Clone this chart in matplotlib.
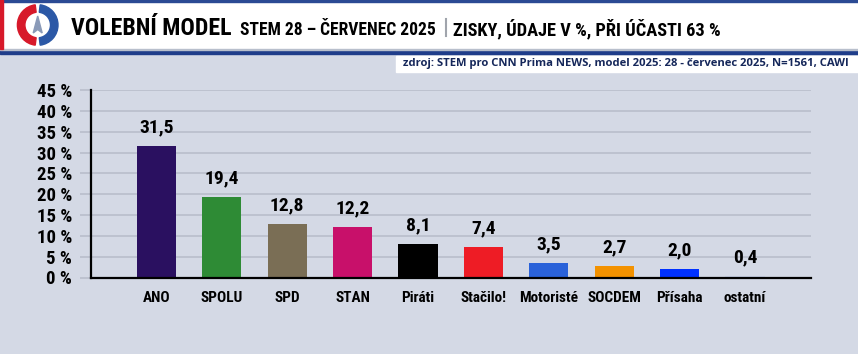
import matplotlib
matplotlib.use("Agg")
import matplotlib.pyplot as plt
from matplotlib.patches import Rectangle, Wedge, Polygon
from matplotlib import font_manager as fm

categories = ["ANO", "SPOLU", "SPD", "STAN", "Piráti", "Stačilo!", "Motoristé", "SOCDEM", "Přísaha", "ostatní"]
values = [31.5, 19.4, 12.8, 12.2, 8.1, 7.4, 3.5, 2.7, 2.0, 0.4]
colors = ["#2a1060", "#2e8b35", "#7a6e55", "#c8106a", "#000000", "#ee1c25", "#2a62d9", "#f39200", "#0031ff", "#c9d1e6"]
yticks = [0, 5, 10, 15, 20, 25, 30, 35, 40, 45]
ytick_labels = [f"{t} %" for t in yticks]
value_labels = [f"{v:.1f}".replace(".", ",") for v in values]

names = {f.name for f in fm.fontManager.ttflist}
COND = [n for n in ["Liberation Sans Narrow", "Roboto Condensed", "DejaVu Sans Condensed", "DejaVu Sans"] if n in names]
WIDE = [n for n in ["Open Sans", "Noto Sans", "DejaVu Sans"] if n in names]
cond_kw = dict(family=COND, fontweight="bold")

W, H = 858, 354
fig = plt.figure(figsize=(W / 100, H / 100), dpi=100)
fig.patch.set_facecolor("#d4d9e5")
renderer = fig.canvas.get_renderer()


def fit_width(t, target):
    bb = t.get_window_extent(renderer)
    t.set_fontsize(t.get_fontsize() * target / bb.width)


# header
hdr = fig.add_axes([0, 0, 1, 1], zorder=0)
hdr.set_xlim(0, W)
hdr.set_ylim(H, 0)
hdr.axis("off")
hdr.add_patch(Rectangle((0, 0), W, 49, color="white"))
hdr.add_patch(Rectangle((0, 0), W, 1.5, color="#2b4a94"))
hdr.add_patch(Rectangle((0, 49.5), W, 4.5, color="#1f3d8a"))
hdr.add_patch(Rectangle((0, 48.5), W, 1, color="#b8bfcc"))
hdr.add_patch(Rectangle((0, 0), 3, 49, color="#d7192a"))
# logo
hdr.add_patch(Wedge((37.7, 25), 20.3, 97, 263, width=7.5, color="#d7192a"))
hdr.add_patch(Wedge((37.7, 25), 20.3, -83, 83, width=7.5, color="#2b58a6"))
hdr.add_patch(Polygon([[37.7, 16], [33.2, 33], [37.7, 29.5], [42.2, 33]], closed=True, color="#8a9ab8"))
# title
t1 = hdr.text(71, 35, "VOLEBNÍ MODEL", fontsize=20, color="black", va="baseline", ha="left", **cond_kw)
t2 = hdr.text(240, 35, "STEM 28 – ČERVENEC 2025", fontsize=14, color="black", va="baseline", ha="left", **cond_kw)
hdr.plot([446, 446], [19, 36], color="#a0a4ac", lw=1.5)
t3 = hdr.text(453, 35, "ZISKY, ÚDAJE V %, PŘI ÚČASTI 63 %", fontsize=14, color="black", va="baseline", ha="left", **cond_kw)
for t, w in ((t1, 161), (t2, 197), (t3, 269)):
    fit_width(t, w)
# source box
hdr.add_patch(Rectangle((396, 55.5), W - 396, 16, color="white"))
src = hdr.text(403, 63.5, "zdroj: STEM pro CNN Prima NEWS, model 2025: 28 - červenec 2025, N=1561, CAWI",
               fontsize=7.6, color="#15275a", ha="left", va="center", family=WIDE, fontweight="bold")
fit_width(src, 449)

# chart
left, right = 91 / W, 811 / W
bottom, top = 1 - 277.5 / H, 1 - 90 / H
ax = fig.add_axes([left, bottom, right - left, top - bottom], zorder=1)
ax.set_facecolor("none")
x = list(range(len(categories)))
ax.bar(x, values, width=0.6, color=colors, zorder=3)
for xi, v, lab in zip(x, values, value_labels):
    ax.annotate(lab, (xi, v), xytext=(0, 7), textcoords="offset points", ha="center", va="bottom",
                fontsize=14, color="black", **cond_kw)
ax.set_xlim(-1.0, 10.01)
ax.set_ylim(0, 45)
ax.set_yticks(yticks)
ax.set_yticklabels(ytick_labels, fontsize=13.5, **cond_kw)
ax.set_xticks(x)
ax.set_xticklabels(categories, fontsize=11, **cond_kw)
ax.tick_params(axis="x", length=0, pad=10)
ax.tick_params(axis="y", length=8, color="#b7bcc9", width=1.1, pad=5.5)
ax.grid(axis="y", color="#b7bcc9", linewidth=1.1, zorder=0)
for s in ["top", "right"]:
    ax.spines[s].set_visible(False)
ax.spines["left"].set_linewidth(1.6)
ax.spines["bottom"].set_linewidth(1.6)
ax.spines["left"].set_zorder(4)
ax.spines["bottom"].set_zorder(4)

fig.savefig("out.png", dpi=100, facecolor=fig.get_facecolor())
